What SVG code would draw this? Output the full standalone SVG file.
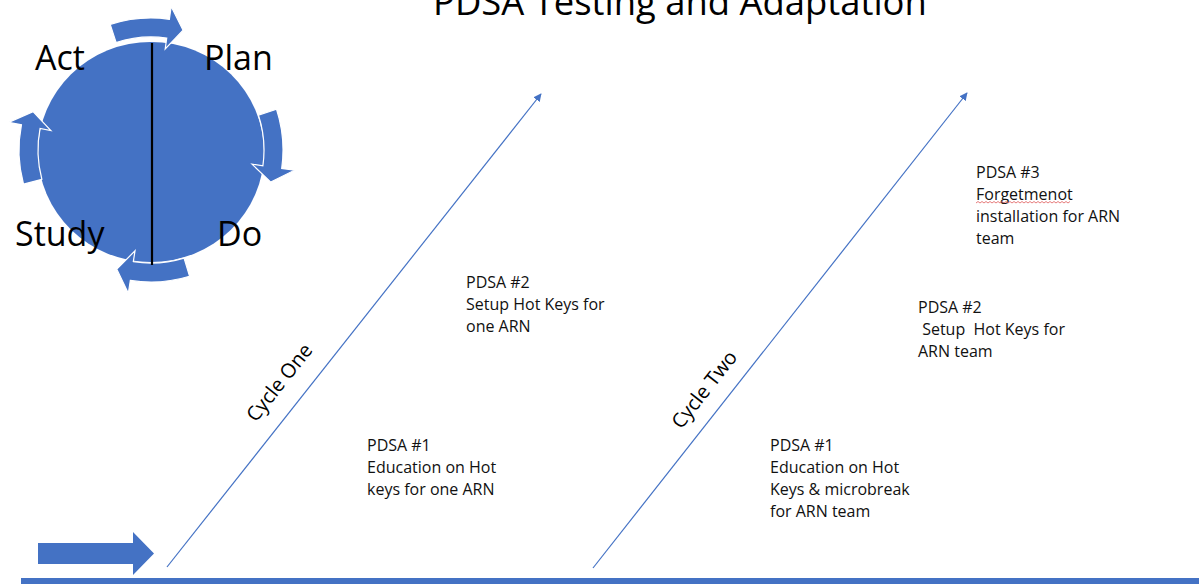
<svg xmlns="http://www.w3.org/2000/svg" width="1199" height="585" viewBox="0 0 1199 585">
<style>
  .big { font-family: "Open Sans", "Liberation Sans", sans-serif; font-size: 34px; fill: #000; }
  .title { font-family: "Open Sans", "Liberation Sans", sans-serif; font-size: 36.4px; fill: #000; }
  .note { font-family: "Open Sans", "Liberation Sans", sans-serif; font-size: 16px; fill: #111; white-space: pre; }
  .cyc { font-family: "Open Sans", "Liberation Sans", sans-serif; font-size: 20px; fill: #000; }
  .ring { fill: #4472C4; stroke: #ffffff; stroke-width: 1.2; stroke-linejoin: miter; }
  .diag { stroke: #4472C4; stroke-width: 1.2; fill: none; marker-end: url(#ah); }
</style>
<defs>
  <marker id="ah" viewBox="0 0 10 10" refX="9" refY="5" markerWidth="8" markerHeight="8" markerUnits="userSpaceOnUse" orient="auto">
    <path d="M0,0 L10,5 L0,10 Z" fill="#4472C4"/>
  </marker>
  <path id="cArrow" d="M0,-132 A132,132 0 0 1 57.87,-118.64 L63.57,-130.33 L67.53,-104 L44.72,-91.68 L49.54,-101.56 A113,113 0 0 0 0,-113 Z"/>
</defs>
<rect width="1199" height="585" fill="#ffffff"/>

<text class="title" x="433" y="15">PDSA Testing and Adaptation</text>

<g id="pdsa-cycle">
  <ellipse cx="151" cy="152" rx="113" ry="110" fill="#4472C4"/>
  <use href="#cArrow" class="ring" transform="translate(151,150) rotate(-18)"/>
  <use href="#cArrow" class="ring" transform="translate(151,150) rotate(72)"/>
  <use href="#cArrow" class="ring" transform="translate(151,150) rotate(163)"/>
  <use href="#cArrow" class="ring" transform="translate(151,150) rotate(255)"/>
  <line x1="152" y1="43" x2="152" y2="265" stroke="#000" stroke-width="2.2"/>
  <text class="big" x="35" y="70">Act</text>
  <text class="big" x="204" y="70">Plan</text>
  <text class="big" x="15" y="246">Study</text>
  <text class="big" x="217" y="246">Do</text>
</g>

<g id="connectors">
  <line class="diag" x1="167" y1="567" x2="541" y2="94"/>
  <line class="diag" x1="593" y1="568" x2="967" y2="93"/>
  <polygon id="start-arrow" points="38,543 133,543 133,532 154,553.5 133,575 133,564 38,564" fill="#4472C4"/>
  <rect x="21" y="578" width="1178" height="6" fill="#4472C4"/>
</g>

<g id="cycle-one-label">
  <text class="cyc" text-anchor="middle" transform="translate(280,383) rotate(-51.7)" y="6">Cycle One</text>
</g>
<g id="cycle-two-label">
  <text class="cyc" text-anchor="middle" transform="translate(705,390) rotate(-51.8)" y="6">Cycle Two</text>
</g>

<g id="c1-pdsa1">
  <text class="note" x="367" y="451">PDSA #1</text>
  <text class="note" x="367" y="473">Education on Hot</text>
  <text class="note" x="367" y="495">keys for one ARN</text>
</g>
<g id="c1-pdsa2">
  <text class="note" x="466" y="288">PDSA #2</text>
  <text class="note" x="466" y="310">Setup Hot Keys for</text>
  <text class="note" x="466" y="332">one ARN</text>
</g>
<g id="c2-pdsa1">
  <text class="note" x="770" y="451">PDSA #1</text>
  <text class="note" x="770" y="473">Education on Hot</text>
  <text class="note" x="770" y="495">Keys &amp; microbreak</text>
  <text class="note" x="770" y="517">for ARN team</text>
</g>
<g id="c2-pdsa2">
  <text class="note" x="918" y="313">PDSA #2</text>
  <text class="note" x="918" y="335"> Setup  Hot Keys for</text>
  <text class="note" x="918" y="357">ARN team</text>
</g>
<g id="c2-pdsa3">
  <text class="note" x="976" y="178">PDSA #3</text>
  <text class="note" x="976" y="200">Forgetmenot</text>
  <path d="M976,203 l2,-1.5 l2,1.5 l2,-1.5 l2,1.5 l2,-1.5 l2,1.5 l2,-1.5 l2,1.5 l2,-1.5 l2,1.5 l2,-1.5 l2,1.5 l2,-1.5 l2,1.5 l2,-1.5 l2,1.5 l2,-1.5 l2,1.5 l2,-1.5 l2,1.5 l2,-1.5 l2,1.5 l2,-1.5 l2,1.5 l2,-1.5 l2,1.5 l2,-1.5 l2,1.5 l2,-1.5 l2,1.5 l2,-1.5 l2,1.5 l2,-1.5 l2,1.5 l2,-1.5 l2,1.5 l2,-1.5 l2,1.5 l2,-1.5 l2,1.5 l2,-1.5 l2,1.5 l2,-1.5 l2,1.5 l2,-1.5 l2,1.5 l2,-1.5" fill="none" stroke="#e05a5a" stroke-width="0.8"/>
  <text class="note" x="976" y="222">installation for ARN</text>
  <text class="note" x="976" y="244">team</text>
</g>
</svg>
